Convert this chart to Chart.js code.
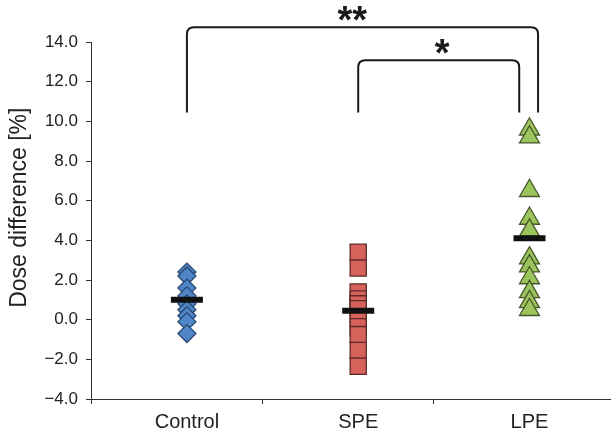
<!DOCTYPE html>
<html>
<head>
<meta charset="utf-8">
<script src="https://cdn.jsdelivr.net/npm/chart.js@4"></script>
<style>
  html, body { margin: 0; padding: 0; background: #fff; }
  canvas { display: block; }
</style>
</head>
<body>
<canvas id="grafico" width="612" height="437"></canvas>
<script>
const categorias = ['Control', 'SPE', 'LPE'];
const valoresControl = [2.4, 2.2, 1.6, 1.2, 0.8, 0.5, 0.2, -0.1, -0.7];
const valoresSPE = [3.4, 2.6, 1.4, 1.05, 0.8, 0.55, 0.1, -0.35, -0.75, -1.55, -2.35];
const valoresLPE = [9.6, 9.2, 6.5, 5.1, 4.5, 3.1, 2.7, 2.1, 1.4, 0.9, 0.5];
const medias = [1.0, 0.45, 4.1];
const ticksY = [-4, -2, 0, 2, 4, 6, 8, 10, 12, 14];

// corchetes de significancia (x en posicion de categoria, y en % )
const corchetes = [
    { desde: 1.0, hasta: 3.05, arriba: 14.75, abajo: 10.45, texto: '**', textoX: 1.965 },
    { desde: 2.0, hasta: 2.94, arriba: 13.08, abajo: 10.45, texto: '*', textoX: 2.49 }
];

const limitesX = [0.44, 1.44, 2.44];

function puntos(valores, idx) {
    return valores.map(v => ({ x: idx + 1, y: v }));
}

const pluginCorchetes = {
    id: 'corchetes',
    afterDraw(chart) {
        const ctx = chart.ctx;
        const sx = chart.scales.x;
        const sy = chart.scales.y;
        ctx.save();
        ctx.strokeStyle = '#1a1a1a';
        ctx.lineWidth = 2;
        ctx.fillStyle = '#1a1a1a';
        corchetes.forEach(c => {
            const x1 = sx.getPixelForValue(c.desde);
            const x2 = sx.getPixelForValue(c.hasta);
            const yt = sy.getPixelForValue(c.arriba);
            const yb = sy.getPixelForValue(c.abajo);
            const r = 7;
            ctx.beginPath();
            ctx.moveTo(x1, yb);
            ctx.lineTo(x1, yt + r);
            ctx.quadraticCurveTo(x1, yt, x1 + r, yt);
            ctx.lineTo(x2 - r, yt);
            ctx.quadraticCurveTo(x2, yt, x2, yt + r);
            ctx.lineTo(x2, yb);
            ctx.stroke();
            ctx.font = 'bold 38px "Liberation Sans", Arial, sans-serif';
            ctx.textAlign = 'center';
            ctx.textBaseline = 'alphabetic';
            ctx.fillText(c.texto, sx.getPixelForValue(c.textoX), yt + 6);
        });
        ctx.restore();
    }
};

const ctx = document.getElementById('grafico').getContext('2d');
new Chart(ctx, {
    type: 'scatter',
    data: {
        datasets: [
            {
                label: 'media',
                data: medias.map((m, i) => ({ x: i + 1, y: m })),
                pointStyle: 'line',
                pointRadius: 16,
                borderColor: '#111',
                borderWidth: 6,
                backgroundColor: '#111'
            },
            {
                label: categorias[0],
                data: puntos(valoresControl, 0),
                pointStyle: 'rectRot',
                pointRadius: 9,
                backgroundColor: '#4f86c8',
                borderColor: '#2a4a72',
                borderWidth: 1.3
            },
            {
                label: categorias[1],
                data: puntos(valoresSPE, 1),
                pointStyle: 'rect',
                pointRadius: 11.4,
                backgroundColor: '#d6625b',
                borderColor: '#5c2a26',
                borderWidth: 1.3
            },
            {
                label: categorias[2],
                data: puntos(valoresLPE, 2),
                pointStyle: 'triangle',
                pointRadius: 11.5,
                backgroundColor: '#9cc45c',
                borderColor: '#46562a',
                borderWidth: 1.3
            }
        ]
    },
    options: {
        responsive: false,
        animation: false,
        layout: { autoPadding: false, padding: { top: 42, right: 2, left: 0, bottom: 0 } },
        plugins: {
            legend: { display: false },
            tooltip: { enabled: false }
        },
        scales: {
            x: {
                type: 'linear',
                min: 0.44,
                max: 3.47,
                afterBuildTicks: (scale) => {
                    const vals = [];
                    limitesX.forEach((b, i) => { vals.push(b); vals.push(i + 1); });
                    scale.ticks = vals.map(v => ({ value: v }));
                },
                afterFit: (scale) => {
                    scale.height = 38;
                    scale.paddingLeft = 0;
                    scale.paddingRight = 0;
                },
                grid: {
                    drawOnChartArea: false,
                    drawTicks: true,
                    tickLength: 5,
                    tickColor: (c) => (c.tick && Number.isInteger(c.tick.value)) ? 'rgba(0,0,0,0)' : '#333'
                },
                border: { display: true, color: '#333', width: 1 },
                ticks: {
                    autoSkip: false,
                    maxRotation: 0,
                    padding: 6,
                    color: '#222',
                    font: { family: '"Liberation Sans", Arial, sans-serif', size: 20 },
                    callback: (v) => Number.isInteger(v) ? categorias[v - 1] : ''
                }
            },
            y: {
                min: -4,
                max: 14,
                afterBuildTicks: (scale) => {
                    scale.ticks = ticksY.map(v => ({ value: v }));
                },
                afterFit: (scale) => { scale.width = 91; },
                grid: {
                    drawOnChartArea: false,
                    drawTicks: true,
                    tickLength: 5,
                    tickColor: '#333'
                },
                border: { display: true, color: '#333', width: 1 },
                ticks: {
                    padding: 8,
                    color: '#222',
                    font: { family: '"Liberation Sans", Arial, sans-serif', size: 17 },
                    callback: (v) => (v < 0 ? '\u2212' + Math.abs(v).toFixed(1) : v.toFixed(1))
                },
                title: {
                    display: true,
                    text: '    Dose difference [%]',
                    color: '#222',
                    padding: { top: 6, bottom: 0 },
                    font: { family: '"Liberation Sans", Arial, sans-serif', size: 23 }
                }
            }
        }
    },
    plugins: [pluginCorchetes]
});
</script>
</body>
</html>
